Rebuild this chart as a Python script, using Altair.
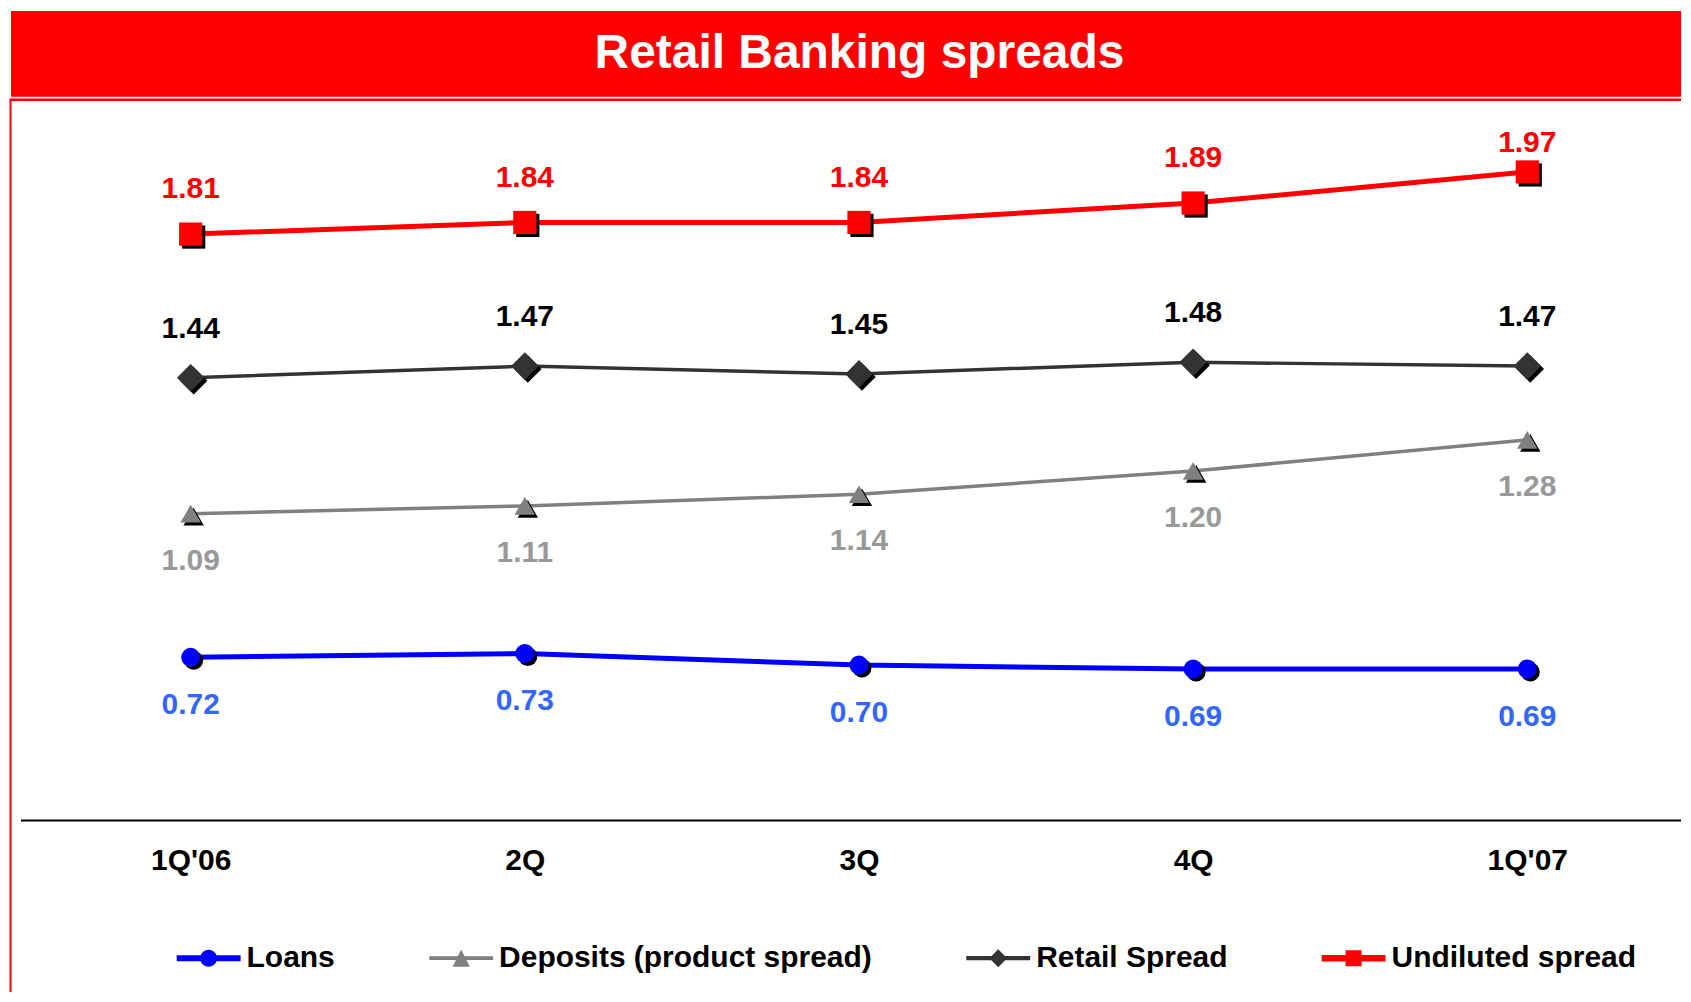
import altair as alt
import pandas as pd

# ---------------- data ----------------
TITLE = ["Retail Banking spreads"]
QUARTERS = ["1Q'06", "2Q", "3Q", "4Q", "1Q'07"]
SERIES = ["Loans", "Deposits (product spread)", "Retail Spread", "Undiluted spread"]
LOANS = [0.72, 0.73, 0.70, 0.69, 0.69]
DEPOSITS = [1.09, 1.11, 1.14, 1.20, 1.28]
RETAIL = [1.44, 1.47, 1.45, 1.48, 1.47]
UNDILUTED = [1.81, 1.84, 1.84, 1.89, 1.97]

VALUES = {
    "Loans": LOANS,
    "Deposits (product spread)": DEPOSITS,
    "Retail Spread": RETAIL,
    "Undiluted spread": UNDILUTED,
}

rows = []
for s in SERIES:
    for q, v in zip(QUARTERS, VALUES[s]):
        rows.append({"quarter": q, "series": s, "value": v})
df = pd.DataFrame(rows)

# ---------------- styles ----------------
FONT = "Liberation Sans"
RED = "#FF0000"
LINE_COLORS = ["#0000FF", "#808080", "#333333", "#FF0000"]
LABEL_COLORS = ["#3366FF", "#999999", "#000000", "#FF0000"]
LINE_WIDTHS = [5, 3.5, 3.5, 5]
SHAPES = ["circle", "triangle-up", "diamond", "square"]
SIZES = [361, 420, 760, 540]
LABEL_DY = [57, 56, -40, -36]
LABEL_CAP = [None, None, None, 1.93]

LEGEND_PATHS = [
    "M-1,-0.094L1,-0.094L1,0.094L-1,0.094Z M-0.266,0 A0.266,0.266 0 1,1 0.266,0 A0.266,0.266 0 1,1 -0.266,0 Z",
    "M-1,-0.06L1,-0.06L1,0.06L-1,0.06Z M0,-0.27 L0.27,0.27 L-0.27,0.27 Z",
    "M-1,-0.065L1,-0.065L1,0.065L-1,0.065Z M0,-0.28 L0.28,0 L0,0.28 L-0.28,0 Z",
    "M-1,-0.1L1,-0.1L1,0.1L-1,0.1Z M-0.25,-0.25 L0.25,-0.25 L0.25,0.25 L-0.25,0.25 Z",
]

W, H = 1675, 813

x_enc = alt.X(
    "quarter:N",
    sort=QUARTERS,
    scale=alt.Scale(type="point", domain=QUARTERS, range=[182, 1521], padding=0),
    axis=alt.Axis(
        title=None, domain=False, ticks=False, tickSize=0, grid=False,
        labelFont=FONT, labelFontSize=30, labelFontWeight="bold",
        labelColor="black", labelPadding=49, labelBaseline="alphabetic",
        labelAngle=0,
    ),
)
y_scale = alt.Scale(domain=[0.3, 2.39], zero=False, nice=False)
y_enc = alt.Y("value:Q", scale=y_scale, axis=None)

one = pd.DataFrame({"t": TITLE})

layers = []

# title bar and frame
layers.append(alt.Chart(one).mark_rect(color=RED).encode(
    x=alt.value(2), x2=alt.value(W), y=alt.value(2), y2=alt.value(88)))
layers.append(alt.Chart(one).mark_text(
    font=FONT, fontSize=48, fontWeight="bold", color="white",
    align="center", baseline="alphabetic").encode(
    text="t:N", x=alt.value(852), y=alt.value(59)))
layers.append(alt.Chart(one).mark_rule(color=RED, strokeWidth=2.5).encode(
    x=alt.value(1), x2=alt.value(W), y=alt.value(91)))
layers.append(alt.Chart(one).mark_rule(color=RED, strokeWidth=2).encode(
    x=alt.value(1.5), y=alt.value(90), y2=alt.value(985)))
# category axis baseline
layers.append(alt.Chart(one).mark_rule(color="black", strokeWidth=2).encode(
    x=alt.value(12), x2=alt.value(W), y=alt.value(H)))

base = alt.Chart(df)

for i, s in enumerate(SERIES):
    d = base.transform_filter(alt.datum.series == s)
    layers.append(d.mark_line(color=LINE_COLORS[i], strokeWidth=LINE_WIDTHS[i]).encode(
        x=x_enc, y=y_enc))

for i, s in enumerate(SERIES):
    d = base.transform_filter(alt.datum.series == s)
    layers.append(d.mark_point(filled=True, color="black", opacity=1,
                               shape=SHAPES[i], size=SIZES[i]).encode(
        x=x_enc, y=y_enc, xOffset=alt.value(3), yOffset=alt.value(3)))
    layers.append(d.mark_point(filled=True, color=LINE_COLORS[i], opacity=1,
                               shape=SHAPES[i], size=SIZES[i]).encode(
        x=x_enc, y=y_enc))

for i, s in enumerate(SERIES):
    d = base.transform_filter(alt.datum.series == s)
    if LABEL_CAP[i] is not None:
        d = d.transform_calculate(ly=f"min(datum.value, {LABEL_CAP[i]})")
    else:
        d = d.transform_calculate(ly="datum.value")
    layers.append(d.mark_text(
        font=FONT, fontSize=30, fontWeight="bold", color=LABEL_COLORS[i],
        align="center", baseline="alphabetic", dy=LABEL_DY[i]).encode(
        x=x_enc, y=alt.Y("ly:Q", scale=y_scale, axis=None),
        text=alt.Text("value:Q", format=".2f")))

legend = alt.Legend(
    orient="none", legendX=168, legendY=919, direction="horizontal",
    title=None, labelFont=FONT, labelFontSize=30, labelFontWeight="bold",
    labelColor="black", labelLimit=800, symbolSize=4096, symbolOpacity=1,
    symbolStrokeWidth=0, columnPadding=94, labelOffset=6, padding=0,
    columns=4,
)
layers.append(base.mark_point(filled=True, opacity=0).encode(
    x=x_enc, y=y_enc,
    color=alt.Color("series:N", scale=alt.Scale(domain=SERIES, range=LINE_COLORS), legend=legend),
    shape=alt.Shape("series:N", scale=alt.Scale(domain=SERIES, range=LEGEND_PATHS), legend=legend),
))

chart = alt.layer(*layers).properties(
    width=W, height=H, padding=0, background="white"
).configure_view(stroke=None)

chart.save("out.html", embed_options={"renderer": "svg", "actions": False})
